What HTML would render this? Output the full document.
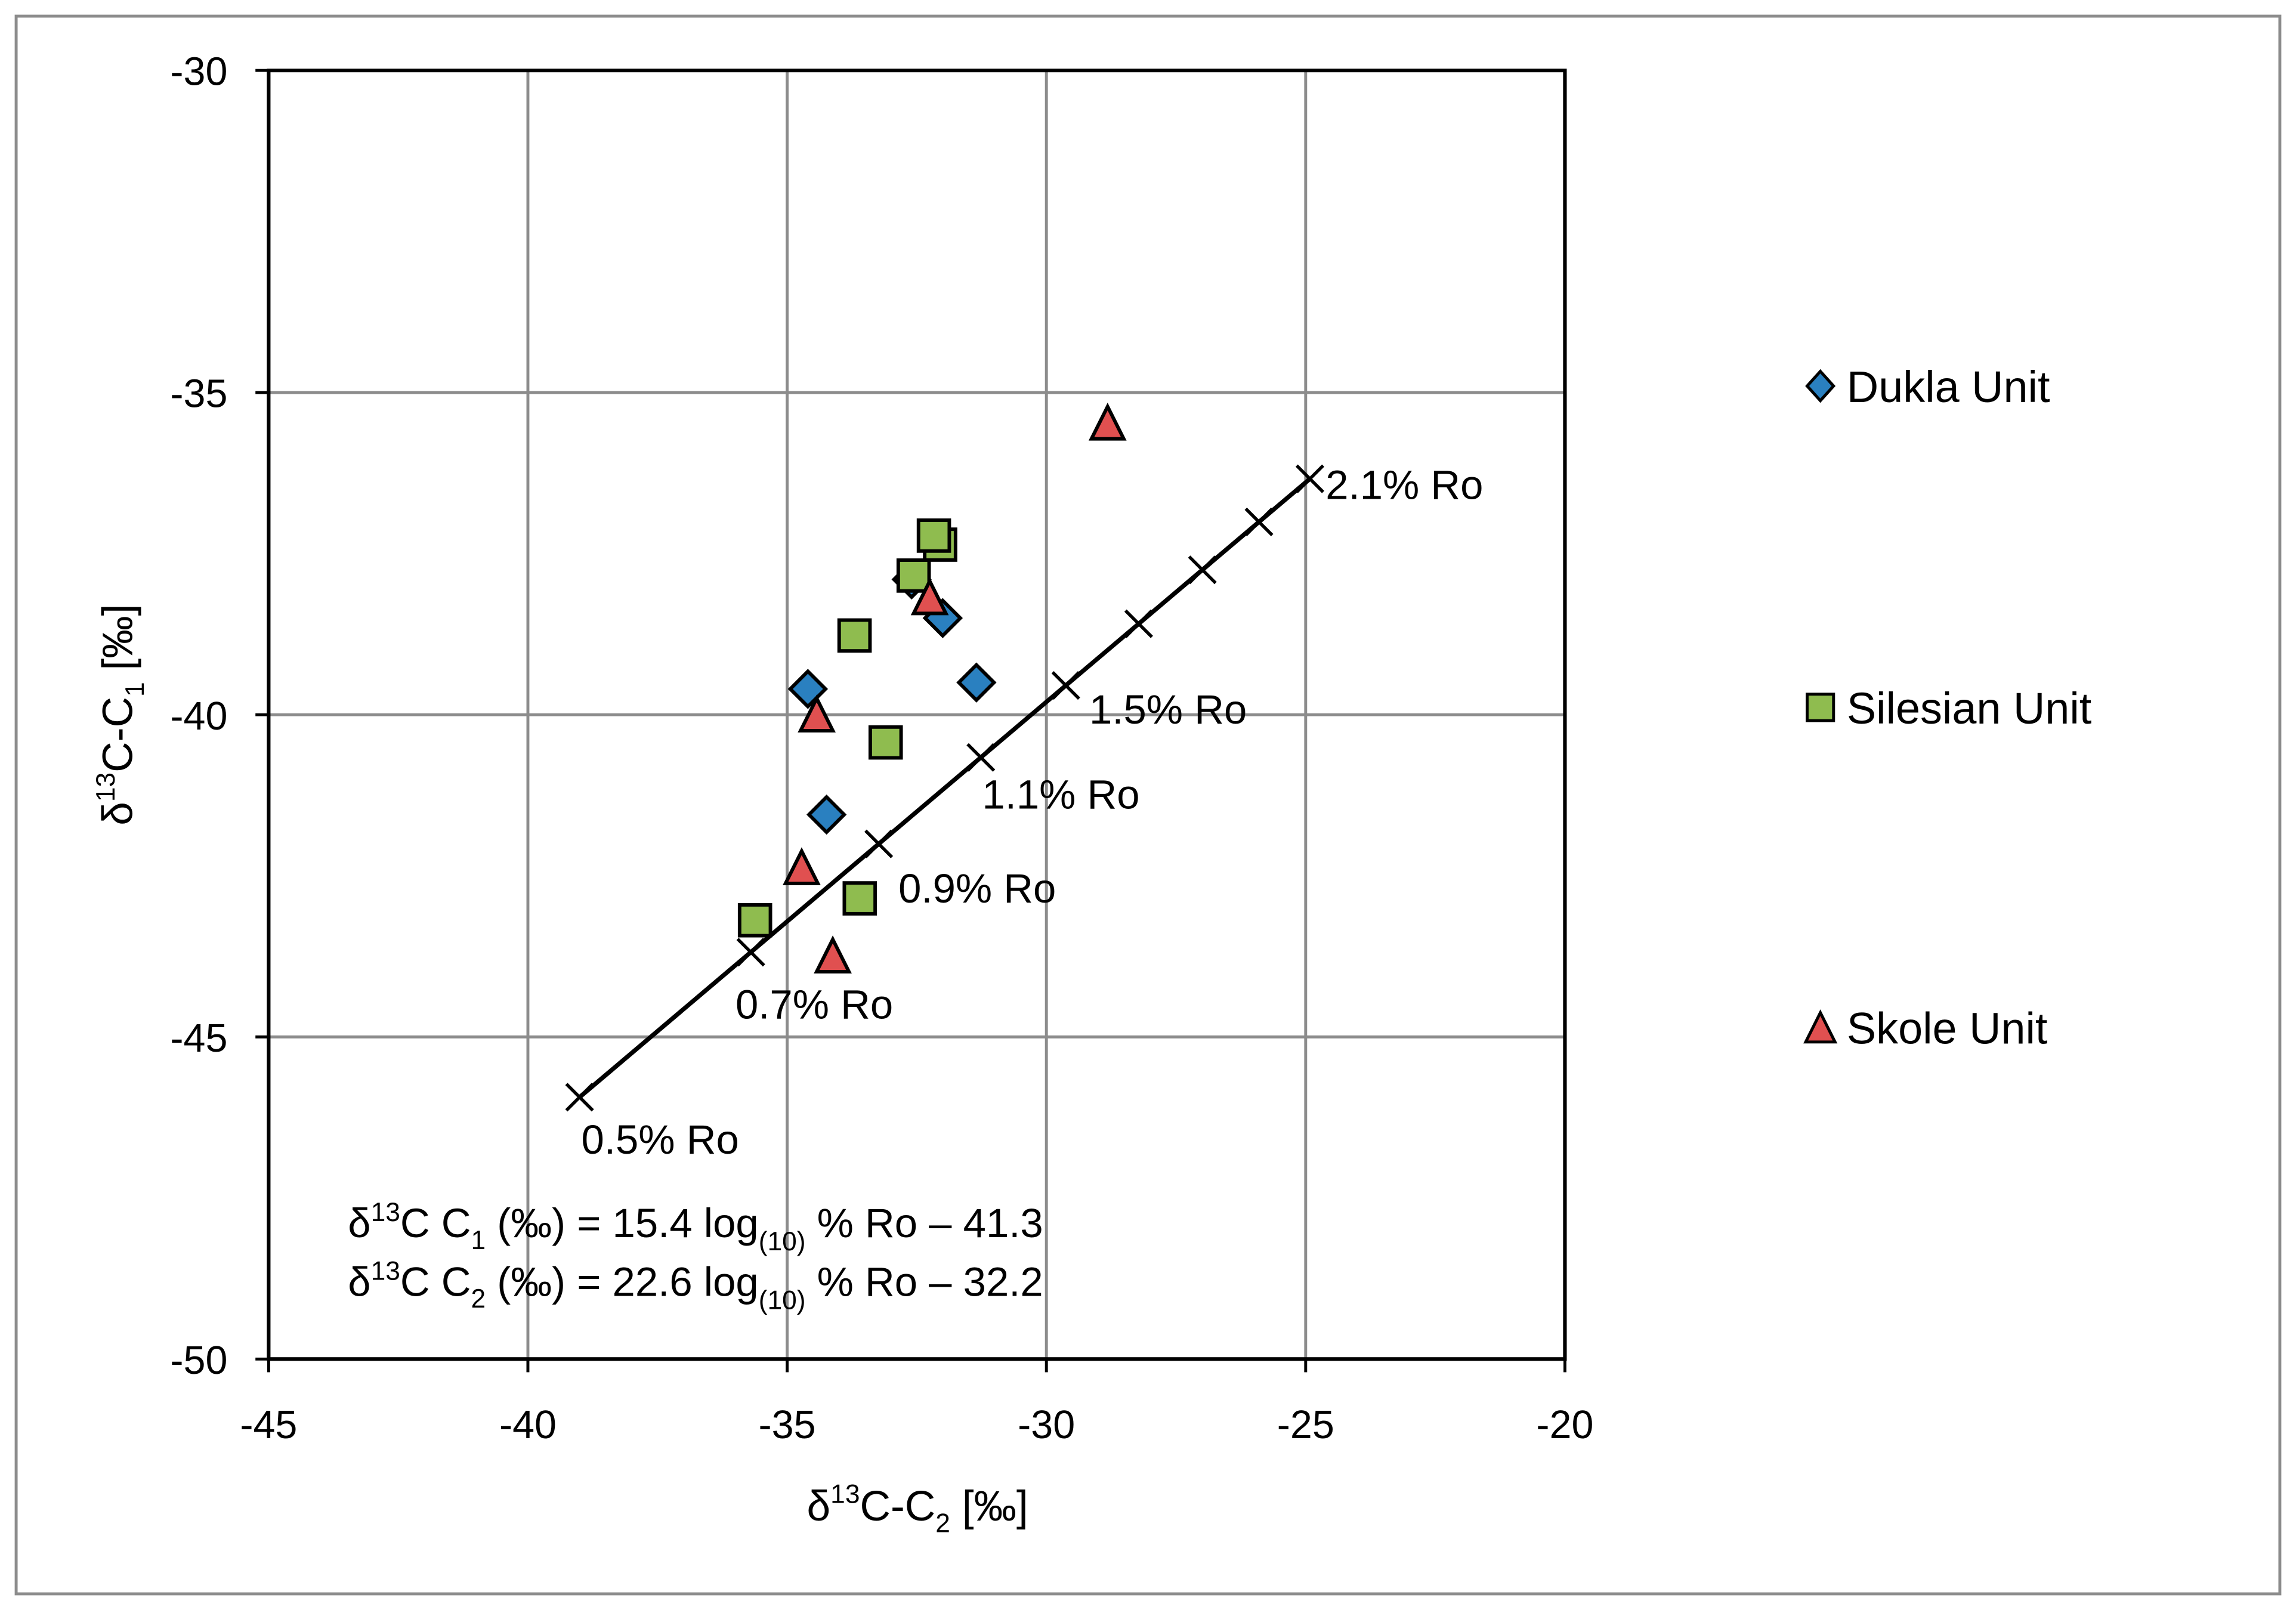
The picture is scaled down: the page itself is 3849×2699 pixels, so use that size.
<!DOCTYPE html>
<html><head><meta charset="utf-8"><style>
html,body{margin:0;padding:0;background:#fff;}
svg{display:block;font-family:"Liberation Sans",sans-serif;}
</style></head><body>
<svg id="chart" width="3849" height="2699" viewBox="0 0 1564 1097" preserveAspectRatio="none" xmlns="http://www.w3.org/2000/svg">
<rect x="11" y="11" width="1542" height="1075" fill="#fff" stroke="#8c8c8c" stroke-width="2"/>
<g id="grid"></g>
<g id="axes"></g>
<g id="line"></g>
<g id="points"></g>
<text x="625" y="1036" font-size="29" text-anchor="middle">δ<tspan font-size="18" dy="-12">13</tspan><tspan dy="12">C-C</tspan><tspan font-size="18" dy="8">2</tspan><tspan dy="-8"> [‰]</tspan></text>
<text transform="translate(90,487) rotate(-90)" font-size="29" text-anchor="middle">δ<tspan font-size="18" dy="-12">13</tspan><tspan dy="12">C-C</tspan><tspan font-size="18" dy="8">1</tspan><tspan dy="-8"> [‰]</tspan></text>
<text x="237" y="843" font-size="28">δ<tspan font-size="18" dy="-11">13</tspan><tspan dy="11">C C</tspan><tspan font-size="18" dy="8">1</tspan><tspan dy="-8"> (‰) = 15.4 log</tspan><tspan font-size="18" dy="9">(10)</tspan><tspan dy="-9"> % Ro – 41.3</tspan></text>
<text x="237" y="883" font-size="28">δ<tspan font-size="18" dy="-11">13</tspan><tspan dy="11">C C</tspan><tspan font-size="18" dy="8">2</tspan><tspan dy="-8"> (‰) = 22.6 log</tspan><tspan font-size="18" dy="9">(10)</tspan><tspan dy="-9"> % Ro – 32.2</tspan></text>
<g>
 <g><polygon points="1240,253 1249,263 1240,273 1231,263" fill="#2a80c0" stroke="#000" stroke-width="2"/><text x="1258" y="274" font-size="30">Dukla Unit</text></g>
 <g><rect x="1231" y="473" width="18" height="18" fill="#8fbc4f" stroke="#000" stroke-width="2"/><text x="1258" y="493" font-size="30">Silesian Unit</text></g>
 <g><polygon points="1240,690 1250,710 1230,710" fill="#e05050" stroke="#000" stroke-width="2"/><text x="1258" y="711" font-size="30">Skole Unit</text></g>
</g>
</svg>
<script>
const xTicks=[-45,-40,-35,-30,-25,-20];
const yTicks=[-30,-35,-40,-45,-50];
const duklaX=[-34.6,-31.35,-34.24,-32.0,-32.6];
const duklaY=[-39.6,-39.5,-41.55,-38.5,-37.9];
const silesianX=[-32.05,-32.17,-32.56,-33.7,-33.1,-33.6,-35.62];
const silesianY=[-37.36,-37.22,-37.84,-38.77,-40.43,-42.85,-43.19];
const skoleX=[-28.82,-32.25,-34.43,-34.72,-34.12];
const skoleY=[-35.49,-38.2,-40.02,-42.39,-43.76];
const roMarks=[0.5,0.7,0.9,1.1,1.3,1.5,1.7,1.9,2.1];
const roLabels=["0.5% Ro","0.7% Ro","0.9% Ro","1.1% Ro","1.5% Ro","2.1% Ro"];
const roLabelPos=[[396,786],[501,694],[612,615],[669,551],[742,493],[903,340]];

const NS="http://www.w3.org/2000/svg";
const X0=183,X1=1066,Y0=48,Y1=926;
function sx(v){return X0+(v+45)/25*(X1-X0);}
function sy(v){return Y0+(-30-v)/20*(Y1-Y0);}
function mk(tag,attrs,parent){const e=document.createElementNS(NS,tag);for(const k in attrs)e.setAttribute(k,attrs[k]);parent.appendChild(e);return e;}
const grid=document.getElementById('grid'),axes=document.getElementById('axes');
xTicks.forEach(t=>{
 const l=mk('line',{x1:sx(t),x2:sx(t),y1:Y0,y2:Y1,stroke:'#8c8c8c','stroke-width':2},grid);
 
 
 const k=mk('line',{x1:sx(t),x2:sx(t),y1:Y1,y2:Y1+9,stroke:'#000','stroke-width':2},axes);
 
 
 const tx=mk('text',{x:sx(t),y:Y1+54,'font-size':27,'text-anchor':'middle'},axes);tx.textContent=t;
 
 
});
yTicks.forEach(t=>{
 const l=mk('line',{x1:X0,x2:X1,y1:sy(t),y2:sy(t),stroke:'#8c8c8c','stroke-width':2},grid);
 
 
 const k=mk('line',{x1:X0-9,x2:X0,y1:sy(t),y2:sy(t),stroke:'#000','stroke-width':2},axes);
 
 
 const tx=mk('text',{x:X0-28,y:sy(t)+10,'font-size':27,'text-anchor':'end'},axes);tx.textContent=t;
 
 
});
const border=mk('rect',{x:X0,y:Y0,width:X1-X0,height:Y1-Y0,fill:'none',stroke:'#000','stroke-width':2.5},axes);


const lineG=document.getElementById('line');
function c1(r){return 15.4*Math.log10(r)-41.3;}
function c2(r){return 22.6*Math.log10(r)-32.2;}
const first=roMarks[0],last=roMarks[roMarks.length-1];
const ln=mk('line',{x1:sx(c2(first)),y1:sy(c1(first)),x2:sx(c2(last)),y2:sy(c1(last)),stroke:'#000','stroke-width':3},lineG);


roMarks.forEach(r=>{
 const x=sx(c2(r)),y=sy(c1(r));
 const p=mk('path',{d:`M${x-9},${y-9}L${x+9},${y+9}M${x-9},${y+9}L${x+9},${y-9}`,stroke:'#000','stroke-width':2.2},lineG);
 
 
});
roLabels.forEach((s,i)=>{
 const t=mk('text',{x:roLabelPos[i][0],y:roLabelPos[i][1],'font-size':28},lineG);t.textContent=s;
 
 
});
const pts=document.getElementById('points');
duklaX.forEach((v,i)=>{
 const x=sx(v),y=sy(duklaY[i]);
 const p=mk('polygon',{points:`${x},${y-12} ${x+12},${y} ${x},${y+12} ${x-12},${y}`,fill:'#2a80c0',stroke:'#000','stroke-width':2.4},pts);
 
 
});
silesianX.forEach((v,i)=>{
 const x=sx(v),y=sy(silesianY[i]);
 const p=mk('rect',{x:x-10.5,y:y-10.5,width:21,height:21,fill:'#8fbc4f',stroke:'#000','stroke-width':2.4},pts);
 
 
});
skoleX.forEach((v,i)=>{
 const x=sx(v),y=sy(skoleY[i]);
 const p=mk('polygon',{points:`${x},${y-12} ${x+11},${y+10} ${x-11},${y+10}`,fill:'#e05050',stroke:'#000','stroke-width':2.4},pts);
 
 
});
</script>
</body></html>
